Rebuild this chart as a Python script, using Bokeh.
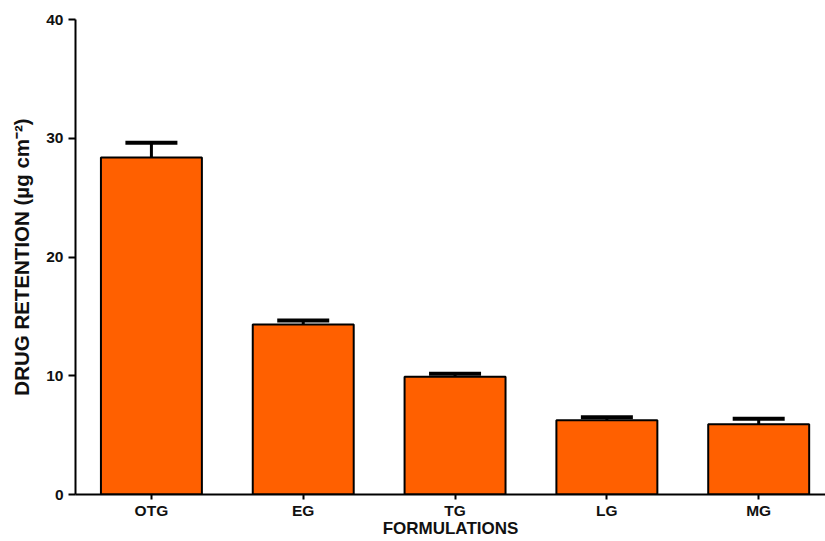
from bokeh.plotting import figure
from bokeh.models import ColumnDataSource, Range1d, FixedTicker, Whisker, TeeHead
from bokeh.embed import file_html
from bokeh.resources import INLINE

# Drug retention per formulation (mean and SD, µg cm^-2)
formulations = ["OTG", "EG", "TG", "LG", "MG"]
retention = [28.37, 14.32, 9.92, 6.26, 5.92]
retention_sd = [1.25, 0.34, 0.25, 0.25, 0.46]
y_ticks = [0, 10, 20, 30, 40]

positions = [i + 0.5 for i in range(len(formulations))]
upper = [m + s for m, s in zip(retention, retention_sd)]

src = ColumnDataSource(dict(x=positions, top=retention, upper=upper, lower=retention))

FONT = "Liberation Sans"
INK = "#111111"

p = figure(
    width=825, height=541,
    x_range=Range1d(0, 4.94), y_range=Range1d(0, 40),
    output_backend="svg", toolbar_location=None,
    min_border_left=75, min_border_top=19, min_border_bottom=47, min_border_right=0,
)
p.outline_line_color = None
p.grid.visible = False

p.vbar(x="x", top="top", width=0.665, bottom=0, source=src,
       fill_color="#FF6000", line_color="black", line_width=2)

err = Whisker(base="x", upper="upper", lower="lower", source=src,
              line_color="black", line_width=3,
              upper_head=TeeHead(size=52, line_color="black", line_width=4),
              lower_head=None)
p.add_layout(err)

# x axis (tight standoffs keep the frame's bottom edge low on the canvas)
xa = p.xaxis[0]
xa.ticker = FixedTicker(ticks=positions)
xa.major_label_overrides = {pos: name for pos, name in zip(positions, formulations)}
xa.minor_tick_line_color = None
xa.major_tick_in = 0
xa.major_tick_out = 5
xa.major_tick_line_width = 2
xa.axis_line_width = 2
xa.major_label_standoff = 2
xa.major_label_text_font = FONT
xa.major_label_text_font_style = "bold"
xa.major_label_text_font_size = "15.5px"
xa.major_label_text_color = INK
xa.axis_label = "FORMULATIONS"
xa.axis_label_text_font = FONT
xa.axis_label_text_font_style = "bold"
xa.axis_label_text_font_size = "17px"
xa.axis_label_text_color = INK
xa.axis_label_standoff = -3

# y axis
ya = p.yaxis[0]
ya.ticker = FixedTicker(ticks=y_ticks)
ya.minor_tick_line_color = None
ya.major_tick_in = 0
ya.major_tick_out = 7
ya.major_tick_line_width = 2
ya.axis_line_width = 2
ya.major_label_standoff = 5
ya.major_label_text_font = FONT
ya.major_label_text_font_style = "bold"
ya.major_label_text_font_size = "15.5px"
ya.major_label_text_color = INK
ya.axis_label = "DRUG RETENTION (µg cm⁻²)"
ya.axis_label_text_font = FONT
ya.axis_label_text_font_style = "bold"
ya.axis_label_text_font_size = "20.5px"
ya.axis_label_text_color = INK
ya.axis_label_standoff = 10

open("out.html", "w").write(file_html(p, INLINE))
